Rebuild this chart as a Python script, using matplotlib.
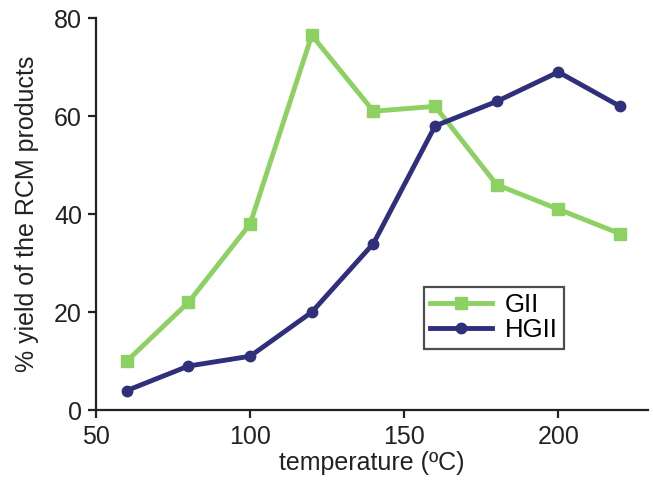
import matplotlib
matplotlib.use("Agg")
import matplotlib.pyplot as plt

plt.rcParams["font.family"] = ["Liberation Sans", "DejaVu Sans"]

temperature = [60, 80, 100, 120, 140, 160, 180, 200, 220]
gii = [10, 22, 38, 76.5, 61, 62, 46, 41, 36]
hgii = [4, 9, 11, 20, 34, 58, 63, 69, 62]

GREEN = "#8ed163"
NAVY = "#2f2f7c"

fig = plt.figure(figsize=(6.53, 4.9), dpi=100)
ax = fig.add_axes([0.147, 0.163, 0.845, 0.8])

ax.plot(temperature, gii, color=GREEN, lw=3.5, marker="s", ms=9, label="GII")
ax.plot(temperature, hgii, color=NAVY, lw=3.5, marker="o", ms=7.5, label="HGII")

ax.set_xlim(50, 229)
ax.set_ylim(0, 80)
ax.set_xticks([50, 100, 150, 200])
ax.set_yticks([0, 20, 40, 60, 80])

for side in ["top", "right"]:
    ax.spines[side].set_visible(False)
for side in ["left", "bottom"]:
    ax.spines[side].set_linewidth(1.6)
    ax.spines[side].set_color("#222222")

ax.tick_params(axis="both", direction="out", length=6, width=1.6,
               labelsize=18, colors="#222222")
ax.tick_params(axis="x", pad=5)
ax.tick_params(axis="y", pad=4)
ax.set_xlabel("temperature (ºC)", fontsize=18, color="#222222", labelpad=1)
ax.set_ylabel("% yield of the RCM products", fontsize=18, color="#222222", labelpad=11)

leg = ax.legend(loc="upper left", bbox_to_anchor=(0.594, 0.315), fontsize=18.5,
                fancybox=False, edgecolor="#222222", handlelength=2.4,
                handletextpad=0.5, borderpad=0.25, labelspacing=0.05,
                borderaxespad=0)
leg.get_frame().set_linewidth(1.6)

fig.savefig("out.png", dpi=100)
